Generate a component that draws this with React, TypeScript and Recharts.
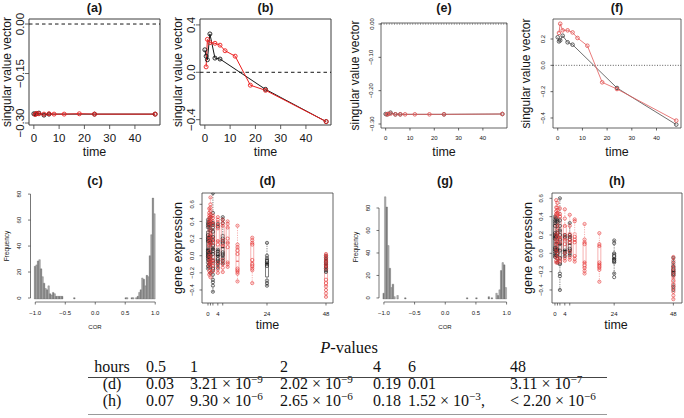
import React from 'react';
import {
  ComposedChart,
  BarChart,
  Bar,
  Line,
  Scatter,
  XAxis,
  YAxis,
  ReferenceLine,
  ReferenceArea,
  Cell,
} from 'recharts';

const W = 684;
const H = 418;
const SANS = '"Liberation Sans", Arial, Helvetica, sans-serif';
const SERIF = '"Liberation Serif", "Times New Roman", serif';
const INK = '#161616';
const FRAME = '#3c3c3c';

// ---------------- singular value vectors (a) (b) (e) (f) ----------------
const blackTimes = [0, 0.5, 1, 2, 4, 6, 24, 48];
const redTimes = [0.5, 1, 2, 4, 6, 8, 12, 18, 24, 48];
const timeTicks = [0, 10, 20, 30, 40];

const aBlack = [-0.272, -0.273, -0.272, -0.27, -0.276, -0.273, -0.273, -0.273];
const aRed = [-0.274, -0.271, -0.272, -0.273, -0.272, -0.273, -0.273, -0.272, -0.273, -0.273];
const bBlack = [0.19, 0.136, 0.106, 0.324, 0.12, 0.112, -0.144, -0.416];
const bRed = [0.046, 0.278, 0.25, 0.245, 0.229, 0.182, 0.136, -0.109, -0.152, -0.416];
const eBlack = [-0.27, -0.271, -0.27, -0.266, -0.271, -0.271, -0.271, -0.27];
const eRed = [-0.271, -0.27, -0.269, -0.271, -0.271, -0.271, -0.271, -0.271, -0.271, -0.27];
const fBlack = [0.213, 0.182, 0.19, 0.225, 0.175, 0.157, -0.172, -0.45];
const fRed = [0.246, 0.316, 0.266, 0.266, 0.25, 0.208, 0.149, -0.129, -0.18, -0.42];

// ---------------- histograms (c) (g) ----------------
const corTicks = [-1, -0.5, 0, 0.5, 1];
const freqTicks = [0, 20, 40, 60, 80];
const cCounts = [
  25, 26, 29, 30, 23, 17, 12, 8, 7, 10,
  4, 3, 5, 4, 2, 2, 2, 2, 2, 0,
  0, 0, 0, 0, 0, 0, 1, 0, 0, 0,
  0, 0, 0, 0, 0, 0, 0, 0, 0, 0,
  0, 0, 0, 0, 0, 0, 0, 0, 0, 0,
  0, 0, 0, 0, 0, 0, 0, 0, 0, 0,
  1, 1, 0, 0, 1, 1, 0, 1, 2, 5,
  7, 16, 15, 10, 18, 17, 33, 49, 77, 65,
];
const gCounts = [
  5, 90, 81, 47, 27, 10, 13, 2, 0, 3,
  0, 0, 0, 0, 1, 0, 0, 0, 0, 0,
  0, 0, 0, 0, 0, 0, 0, 0, 0, 0,
  0, 0, 0, 0, 0, 0, 0, 0, 0, 0,
  0, 0, 0, 0, 0, 0, 0, 0, 0, 0,
  0, 0, 0, 0, 1, 0, 0, 0, 0, 0,
  1, 0, 0, 0, 0, 0, 0, 0, 2, 0,
  1, 0, 0, 5, 3, 8, 25, 32, 30, 10,
];

// ---------------- gene expression boxplots (d) (h) ----------------
const exprTicks = [-0.4, -0.2, 0, 0.2, 0.4, 0.6];
const boxTimeTicks = [0, 1, 2, 4, 6, 24, 48];
const boxTimeLabels = [0, 4, 24, 48];

const dBlackTimes = [0, 0.5, 1, 2, 4, 6, 24, 48];
const dBlackValues = [
  [0.42, 0.39, 0.37, 0.35, 0.33, 0.24, 0.21, 0.19, 0.17, 0.07, 0.05, 0.03, 0.01, -0.01, -0.03, -0.05, -0.08, -0.12, -0.15],
  [0.38, 0.35, 0.22, 0.18, 0.03, 0.0, -0.02, -0.06, -0.1],
  [0.45, 0.4, 0.37, 0.3, 0.22, 0.18, 0.15, 0.04, 0.0, -0.04, -0.08, -0.13, -0.2],
  [0.73, 0.5, 0.38, 0.36, 0.33, 0.28, 0.22, 0.18, 0.12, 0.08, 0.05, 0.02, -0.06, -0.15, -0.22, -0.28, -0.31, -0.35, -0.42],
  [0.37, 0.34, 0.07, 0.05, 0.02, 0.0, -0.04, -0.06, -0.08, -0.1, -0.14],
  [0.45, 0.42, 0.38, 0.2, 0.17, 0.15, 0.04, 0.02, 0.0, -0.03, -0.06, -0.09],
  [0.15, 0.0, -0.03, -0.06, -0.08, -0.1, -0.12, -0.29, -0.32, -0.35],
  [0.0, -0.02, -0.04, -0.06, -0.08, -0.1, -0.12, -0.13, -0.15, -0.17, -0.19],
];
const dRedTimes = [0.5, 1, 2, 4, 6, 8, 12, 18, 48];
const dRedValues = [
  [0.55, 0.5, 0.47, 0.44, 0.41, 0.38, 0.35, 0.22, 0.19, 0.16, 0.12, 0.05, 0.0, -0.03, -0.06, -0.09, -0.12, -0.18, -0.22],
  [0.68, 0.6, 0.56, 0.52, 0.48, 0.45, 0.42, 0.39, 0.3, 0.25, 0.2, 0.14, 0.0, -0.05, -0.08, -0.1, -0.15, -0.2, -0.25],
  [0.47, 0.44, 0.4, 0.36, 0.2, 0.15, -0.05, -0.08, -0.12, -0.18],
  [0.45, 0.42, 0.39, 0.35, 0.32, 0.17, 0.13, -0.08, -0.12, -0.16, -0.2],
  [0.42, 0.38, 0.35, 0.18, 0.12, -0.05, -0.1, -0.14, -0.19],
  [0.4, 0.37, 0.33, 0.2, 0.15, 0.1, -0.08, -0.1, -0.13],
  [0.35, 0.13, 0.1, 0.06, 0.02, -0.15, -0.17, -0.19, -0.21, -0.3],
  [0.21, 0.18, 0.15, 0.13, -0.05, -0.1, -0.12, -0.15, -0.17, -0.32],
  [0.02, 0.0, -0.02, -0.05, -0.07, -0.1, -0.12, -0.15, -0.28, -0.32, -0.36, -0.4, -0.44, -0.48],
];

const hBlackTimes = [0, 0.5, 1, 2, 4, 6, 24, 48];
const hBlackValues = [
  [0.4, 0.37, 0.35, 0.33, 0.3, 0.22, 0.2, 0.18, 0.16, 0.06, 0.04, 0.02, 0.0, -0.02, -0.04],
  [0.38, 0.2, 0.18, 0.05, 0.02, -0.02],
  [0.36, 0.34, 0.22, 0.04, 0.0, -0.06, -0.1],
  [0.6, 0.36, 0.3, 0.25, 0.2, 0.15, 0.1, 0.03, -0.05, -0.12, -0.22, -0.25, -0.4],
  [0.2, 0.18, 0.03, 0.0, -0.03],
  [0.33, 0.2, 0.18, 0.15, 0.05, 0.03, 0.0, -0.02],
  [0.14, 0.11, 0.0, -0.03, -0.06, -0.08, -0.1, -0.22, -0.26],
  [-0.05, -0.1, -0.14, -0.18, -0.2, -0.22, -0.24, -0.36, -0.4],
];
const hRedTimes = [0.5, 1, 2, 4, 6, 8, 12, 18, 48];
const hRedValues = [
  [0.58, 0.5, 0.46, 0.43, 0.4, 0.2, 0.15, 0.1, 0.05, 0.02, -0.04, -0.08, -0.1],
  [0.55, 0.5, 0.47, 0.44, 0.42, 0.3, 0.22, 0.18, 0.12, 0.0, -0.05, -0.1],
  [0.49, 0.43, 0.4, 0.17, 0.12, -0.06, -0.09],
  [0.48, 0.38, 0.3, 0.2, 0.15, 0.1, 0.0, -0.05, -0.08],
  [0.42, 0.3, 0.2, 0.15, 0.12, 0.02, -0.04, -0.07],
  [0.37, 0.35, 0.18, 0.15, 0.12, -0.03, -0.06, -0.09],
  [0.32, 0.15, 0.12, 0.1, -0.1, -0.13, -0.16, -0.19, -0.22],
  [0.22, 0.1, 0.08, -0.1, -0.12, -0.14, -0.16, -0.18, -0.31],
  [-0.04, -0.08, -0.12, -0.16, -0.2, -0.24, -0.3, -0.34, -0.38, -0.42, -0.46, -0.5],
];

// ---------------- P-value table ----------------
const tableHours = ['0.5', '1', '2', '4', '6', '48'];
type PCell = { p?: string; m: string; e?: string; s?: string };
const tableD: PCell[] = [
  { m: '0.03' }, { m: '3.21', e: '−9' }, { m: '2.02', e: '−9' }, { m: '0.19' }, { m: '0.01' }, { m: '3.11', e: '−7' },
];
const tableH: PCell[] = [
  { m: '0.07' }, { m: '9.30', e: '−6' }, { m: '2.65', e: '−6' }, { m: '0.18' }, { m: '1.52', e: '−3', s: ',' }, { p: '< ', m: '2.20', e: '−6' },
];

// ---------------- helpers ----------------
type Box = { x0: number; x1: number; y0: number; y1: number };
// axes get a 1px band (an axis with zero size is not drawn)
const margins = (b: Box) => ({ top: b.y0, left: b.x0 - 1, right: W - b.x1, bottom: H - b.y1 - 1 });
const minus = (s: string) => s.replace('-', '−');

function Layer({ children }: { children: React.ReactNode }) {
  return <div style={{ position: 'absolute', left: 0, top: 0, width: W, height: H }}>{children}</div>;
}

const xTick = (fs: number, fmt: (v: number) => string) => (props: any) => {
  const { x, y, payload } = props;
  return (
    <text x={x} y={y} dy={fs * 0.72} textAnchor="middle" fontSize={fs} fontFamily={SANS} fill={INK}>
      {fmt(payload.value)}
    </text>
  );
};
const yTick = (fs: number, fmt: (v: number) => string) => (props: any) => {
  const { x, y, payload } = props;
  return (
    <text x={x} y={y} transform={`rotate(-90 ${x} ${y})`} textAnchor="middle" fontSize={fs} fontFamily={SANS} fill={INK}>
      {fmt(payload.value)}
    </text>
  );
};
const noMark = () => <g />;

const XDOM: [number, number] = [-1.92, 49.92];

type LineProps = {
  box: Box;
  yDomain: [number, number];
  yTicks: number[];
  digits: number;
  black: number[];
  red: number[];
  small: boolean;
};

function LinePanel(p: LineProps) {
  const blackData = blackTimes.map((t, i) => ({ t, v: p.black[i] }));
  const redData = redTimes.map((t, i) => ({ t, v: p.red[i] }));
  const fs = p.small ? 6 : 11.5;
  const tl = p.small ? 2.5 : 4;
  const bc = p.small ? '#4a4a4a' : INK;
  const rc = p.small ? '#e35b5b' : '#ec1e1e';
  const lw = p.small ? 0.8 : 1;
  const r = p.small ? 1.8 : 2;
  return (
    <Layer>
      <ComposedChart width={W} height={H} margin={margins(p.box)}>
        <XAxis
          type="number"
          dataKey="t"
          domain={XDOM}
          allowDataOverflow
          ticks={timeTicks}
          interval={0}
          height={1}
          axisLine={false}
          tickLine={{ stroke: FRAME, strokeWidth: 0.8 }}
          tickSize={tl}
          tickMargin={5}
          tick={xTick(fs, (v) => String(v))}
        />
        <YAxis
          type="number"
          domain={p.yDomain}
          allowDataOverflow
          ticks={p.yTicks}
          interval={0}
          width={1}
          axisLine={false}
          tickLine={{ stroke: FRAME, strokeWidth: 0.8 }}
          tickSize={tl}
          tickMargin={p.small ? 5 : 1}
          tick={yTick(fs, (v) => minus(v.toFixed(p.digits)))}
        />
        <ReferenceArea
          x1={XDOM[0]}
          x2={XDOM[1]}
          y1={p.yDomain[0]}
          y2={p.yDomain[1]}
          fill="none"
          stroke={FRAME}
          strokeWidth={p.small ? 0.8 : 1}
          ifOverflow="visible"
        />
        <ReferenceLine
          y={0}
          stroke={p.small ? '#333' : INK}
          strokeWidth={p.small ? 0.8 : 1}
          strokeDasharray={p.small ? '1 1.6' : '3.5 3'}
        />
        <Line
          data={blackData}
          dataKey="v"
          type="linear"
          stroke={bc}
          strokeWidth={lw}
          dot={{ r, fill: 'none', stroke: bc, strokeWidth: 0.9 }}
          activeDot={false}
          isAnimationActive={false}
        />
        <Line
          data={redData}
          dataKey="v"
          type="linear"
          stroke={rc}
          strokeWidth={lw}
          dot={{ r, fill: 'none', stroke: rc, strokeWidth: 0.9 }}
          activeDot={false}
          isAnimationActive={false}
        />
      </ComposedChart>
    </Layer>
  );
}

type HistProps = { region: Box; counts: number[]; yDomain: [number, number]; yMargin: number };

function HistPanel(p: HistProps) {
  const plotW = p.region.x1 - p.region.x0;
  const pad = (0.08 * plotW) / 2.16;
  const bw = (plotW - 2 * pad) / p.counts.length;
  const rows = p.counts.map((n, i) => ({ bin: i, n }));
  const tickRows = corTicks.map((v) => ({ v, zero: 0 }));
  return (
    <>
      <Layer>
        <BarChart width={W} height={H} margin={margins(p.region)} data={rows} barCategoryGap={0} barGap={0}>
          <XAxis dataKey="bin" type="category" hide padding={{ left: pad, right: pad }} />
          <YAxis type="number" domain={p.yDomain} allowDataOverflow hide />
          <Bar dataKey="n" barSize={bw} isAnimationActive={false} stroke="#6a6a6a" strokeWidth={0.35}>
            {rows.map((row, i) => (
              <Cell key={i} fill={i % 2 ? '#b0b0b0' : '#7e7e7e'} />
            ))}
          </Bar>
        </BarChart>
      </Layer>
      <Layer>
        <ComposedChart width={W} height={H} margin={margins(p.region)} data={tickRows}>
          <XAxis
            type="number"
            dataKey="v"
            domain={[-1.08, 1.08]}
            allowDataOverflow
            ticks={corTicks}
            interval={0}
            height={1}
            axisLine={false}
            tickLine={{ stroke: FRAME, strokeWidth: 0.7 }}
            tickSize={2.5}
            tickMargin={6.5}
            tick={xTick(6, (v) => minus(v.toFixed(1)))}
          />
          <YAxis
            type="number"
            domain={p.yDomain}
            allowDataOverflow
            ticks={freqTicks}
            interval={0}
            width={1}
            axisLine={false}
            tickLine={{ stroke: FRAME, strokeWidth: 0.7 }}
            tickSize={2.5}
            tickMargin={p.yMargin}
            tick={yTick(6, (v) => String(v))}
          />
          <Scatter dataKey="zero" shape={noMark} isAnimationActive={false} />
          <ReferenceLine
            segment={[{ x: -1, y: p.yDomain[0] }, { x: 1, y: p.yDomain[0] }]}
            stroke={FRAME}
            strokeWidth={0.7}
            ifOverflow="visible"
          />
          <ReferenceLine
            segment={[{ x: -1.08, y: 0 }, { x: -1.08, y: 80 }]}
            stroke={FRAME}
            strokeWidth={0.7}
            ifOverflow="visible"
          />
        </ComposedChart>
      </Layer>
    </>
  );
}

function quantile(s: number[], q: number) {
  const idx = (s.length - 1) * q;
  const lo = Math.floor(idx);
  const hi = Math.ceil(idx);
  return s[lo] + (s[hi] - s[lo]) * (idx - lo);
}
function boxStats(t: number, vals: number[]) {
  const s = [...vals].sort((a, b) => a - b);
  const q1 = quantile(s, 0.25);
  const med = quantile(s, 0.5);
  const q3 = quantile(s, 0.75);
  const iqr = q3 - q1;
  const inside = s.filter((v) => v >= q1 - 1.5 * iqr && v <= q3 + 1.5 * iqr);
  return { t, q1, med, q3, lo: inside[0], hi: inside[inside.length - 1] };
}

const BOX_HALF = 0.6;
const CAP_HALF = 0.3;

function boxElements(times: number[], values: number[][], color: string, key: string) {
  return times.map((t, i) => {
    const s = boxStats(t, values[i]);
    return (
      <React.Fragment key={key + i}>
        <ReferenceLine segment={[{ x: t, y: s.q3 }, { x: t, y: s.hi }]} stroke={color} strokeWidth={0.6} strokeDasharray="1.2 1.2" />
        <ReferenceLine segment={[{ x: t, y: s.lo }, { x: t, y: s.q1 }]} stroke={color} strokeWidth={0.6} strokeDasharray="1.2 1.2" />
        <ReferenceLine segment={[{ x: t - CAP_HALF, y: s.hi }, { x: t + CAP_HALF, y: s.hi }]} stroke={color} strokeWidth={0.6} />
        <ReferenceLine segment={[{ x: t - CAP_HALF, y: s.lo }, { x: t + CAP_HALF, y: s.lo }]} stroke={color} strokeWidth={0.6} />
        <ReferenceArea x1={t - BOX_HALF} x2={t + BOX_HALF} y1={s.q1} y2={s.q3} fill="none" stroke={color} strokeWidth={0.6} ifOverflow="visible" />
        <ReferenceLine segment={[{ x: t - BOX_HALF, y: s.med }, { x: t + BOX_HALF, y: s.med }]} stroke={color} strokeWidth={1.4} />
      </React.Fragment>
    );
  });
}

const ring = (color: string) => (props: any) => (
  <circle cx={props.cx} cy={props.cy} r={1.6} fill="none" stroke={color} strokeWidth={0.65} />
);

type BoxProps = {
  box: Box;
  xDomain: [number, number];
  yDomain: [number, number];
  bTimes: number[];
  bValues: number[][];
  rTimes: number[];
  rValues: number[][];
  yMargin: number;
};

function BoxPanel(p: BoxProps) {
  const bPts = p.bTimes.flatMap((t, i) => p.bValues[i].map((v) => ({ t, v })));
  const rPts = p.rTimes.flatMap((t, i) => p.rValues[i].map((v) => ({ t, v })));
  const black = '#262626';
  const red = '#e63c3c';
  const pink = '#f07c7c';
  return (
    <Layer>
      <ComposedChart width={W} height={H} margin={margins(p.box)}>
        <XAxis
          type="number"
          dataKey="t"
          domain={p.xDomain}
          allowDataOverflow
          ticks={boxTimeTicks}
          interval={0}
          height={1}
          axisLine={false}
          tickLine={{ stroke: FRAME, strokeWidth: 0.7 }}
          tickSize={2.5}
          tickMargin={5.7}
          tick={xTick(6, (v) => (boxTimeLabels.includes(v) ? String(v) : ''))}
        />
        <YAxis
          type="number"
          domain={p.yDomain}
          allowDataOverflow
          ticks={exprTicks}
          interval={0}
          width={1}
          axisLine={false}
          tickLine={{ stroke: FRAME, strokeWidth: 0.7 }}
          tickSize={2.5}
          tickMargin={p.yMargin}
          tick={yTick(6, (v) => minus(v.toFixed(1)))}
        />
        <ReferenceArea
          x1={p.xDomain[0]}
          x2={p.xDomain[1]}
          y1={p.yDomain[0]}
          y2={p.yDomain[1]}
          fill="none"
          stroke={FRAME}
          strokeWidth={0.8}
          ifOverflow="visible"
        />
        {boxElements(p.bTimes, p.bValues, black, 'b')}
        {boxElements(p.rTimes, p.rValues, pink, 'r')}
        <Scatter data={bPts} dataKey="v" shape={ring(black)} isAnimationActive={false} />
        <Scatter data={rPts} dataKey="v" shape={ring(red)} isAnimationActive={false} />
      </ComposedChart>
    </Layer>
  );
}

type Txt = { x: number; y: number; s: string; fs: number; bold?: boolean; rot?: boolean };
const overlayTexts: Txt[] = [
  { x: 94.5, y: 8, s: '(a)', fs: 12.5, bold: true },
  { x: 265.5, y: 8, s: '(b)', fs: 12.5, bold: true },
  { x: 444, y: 8, s: '(e)', fs: 12.5, bold: true },
  { x: 617, y: 8, s: '(f)', fs: 12.5, bold: true },
  { x: 95, y: 181, s: '(c)', fs: 12.5, bold: true },
  { x: 267.5, y: 181, s: '(d)', fs: 12.5, bold: true },
  { x: 445, y: 181, s: '(g)', fs: 12.5, bold: true },
  { x: 617, y: 181, s: '(h)', fs: 12.5, bold: true },
  { x: 7, y: 72, s: 'singular value vector', fs: 12, rot: true },
  { x: 178, y: 72, s: 'singular value vector', fs: 12, rot: true },
  { x: 355, y: 75.5, s: 'singular value vector', fs: 12, rot: true },
  { x: 526, y: 73.5, s: 'singular value vector', fs: 12, rot: true },
  { x: 178, y: 248, s: 'gene expression', fs: 12.5, rot: true },
  { x: 528, y: 248, s: 'gene expression', fs: 12.5, rot: true },
  { x: 6, y: 246, s: 'Frequency', fs: 6.5, rot: true },
  { x: 355, y: 247, s: 'Frequency', fs: 6.5, rot: true },
  { x: 94.5, y: 152, s: 'time', fs: 12.5 },
  { x: 265.5, y: 152, s: 'time', fs: 12.5 },
  { x: 444, y: 152, s: 'time', fs: 12.5 },
  { x: 617, y: 152, s: 'time', fs: 12.5 },
  { x: 267.5, y: 325, s: 'time', fs: 12.5 },
  { x: 616, y: 325, s: 'time', fs: 12.5 },
  { x: 95, y: 327, s: 'COR', fs: 6 },
  { x: 445, y: 327, s: 'COR', fs: 6 },
];

function Overlay() {
  return (
    <svg width={W} height={H} style={{ position: 'absolute', left: 0, top: 0 }}>
      {overlayTexts.map((t, i) => (
        <text
          key={i}
          x={t.x}
          y={t.y}
          fontSize={t.fs}
          fontWeight={t.bold ? 'bold' : 'normal'}
          fontFamily={SANS}
          textAnchor="middle"
          dominantBaseline="central"
          fill={INK}
          transform={t.rot ? `rotate(-90 ${t.x} ${t.y})` : undefined}
        >
          {t.s}
        </text>
      ))}
    </svg>
  );
}

const colX = [146, 190, 280, 373, 408, 510];
const TFS = 16;

function CellText({ c }: { c: PCell }) {
  return (
    <span>
      {c.p}
      {c.m}
      {c.e ? (
        <>
          {' × 10'}
          <span style={{ fontSize: '0.7em', position: 'relative', top: '-0.5em' }}>{c.e}</span>
        </>
      ) : null}
      {c.s}
    </span>
  );
}

function Table() {
  const rowY = [367, 384, 401];
  const base: React.CSSProperties = {
    position: 'absolute',
    fontFamily: SERIF,
    fontSize: TFS,
    lineHeight: `${TFS}px`,
    color: '#111',
    whiteSpace: 'nowrap',
  };
  const rows: { label: string; cells: PCell[] }[] = [
    { label: 'hours', cells: tableHours.map((h) => ({ m: h })) },
    { label: '(d)', cells: tableD },
    { label: '(h)', cells: tableH },
  ];
  return (
    <div style={{ position: 'absolute', left: 0, top: 0, width: W, height: H }}>
      <div style={{ ...base, left: 249, width: 200, top: 348 - 8.5, textAlign: 'center', fontSize: 16.5 }}>
        <i>P</i>-values
      </div>
      {rows.map((r, ri) => (
        <React.Fragment key={ri}>
          <div style={{ ...base, left: 82, width: 60, top: rowY[ri] - 8.5, textAlign: 'center' }}>{r.label}</div>
          {r.cells.map((c, ci) => (
            <div key={ci} style={{ ...base, left: colX[ci], top: rowY[ri] - 8.5 }}>
              <CellText c={c} />
            </div>
          ))}
        </React.Fragment>
      ))}
      <div style={{ position: 'absolute', left: 88, width: 519, top: 376.5, height: 0, borderTop: '1px solid #444' }} />
      <div style={{ position: 'absolute', left: 88, width: 519, top: 413.5, height: 0, borderTop: '1.6px solid #9a9a9a' }} />
    </div>
  );
}

export default function App() {
  return (
    <div
      style={{
        position: 'absolute',
        left: 0,
        top: 0,
        width: W,
        height: H,
        background: '#fff',
        overflow: 'hidden',
        fontFamily: SANS,
      }}
    >
      <LinePanel box={{ x0: 29, x1: 160, y0: 19, y1: 125 }} yDomain={[-0.306, 0.0152]} yTicks={[-0.3, -0.15, 0]} digits={2} black={aBlack} red={aRed} small={false} />
      <LinePanel box={{ x0: 200, x1: 331, y0: 19, y1: 125 }} yDomain={[-0.445, 0.45]} yTicks={[-0.4, 0, 0.4]} digits={1} black={bBlack} red={bRed} small={false} />
      <LinePanel box={{ x0: 381, x1: 507, y0: 23, y1: 128 }} yDomain={[-0.312, 0.003]} yTicks={[-0.3, -0.2, -0.1, 0]} digits={2} black={eBlack} red={eRed} small />
      <LinePanel box={{ x0: 553, x1: 681, y0: 19, y1: 128 }} yDomain={[-0.476, 0.352]} yTicks={[-0.4, -0.2, 0, 0.2]} digits={1} black={fBlack} red={fRed} small />

      <HistPanel region={{ x0: 30.5, x1: 160, y0: 194, y1: 302 }} counts={cCounts} yDomain={[-3.08, 80.08]} yMargin={7} />
      <HistPanel region={{ x0: 379, x1: 511.5, y0: 192.7, y1: 302 }} counts={gCounts} yDomain={[-3.6, 93.6]} yMargin={6} />

      <BoxPanel box={{ x0: 202, x1: 333, y0: 193, y1: 303 }} xDomain={[-2.44, 50.85]} yDomain={[-0.552, 0.732]} bTimes={dBlackTimes} bValues={dBlackValues} rTimes={dRedTimes} rValues={dRedValues} yMargin={5.3} />
      <BoxPanel box={{ x0: 552, x1: 682, y0: 193, y1: 303 }} xDomain={[-1.2, 51.5]} yDomain={[-0.542, 0.658]} bTimes={hBlackTimes} bValues={hBlackValues} rTimes={hRedTimes} rValues={hRedValues} yMargin={6} />

      <Overlay />
      <Table />
    </div>
  );
}
